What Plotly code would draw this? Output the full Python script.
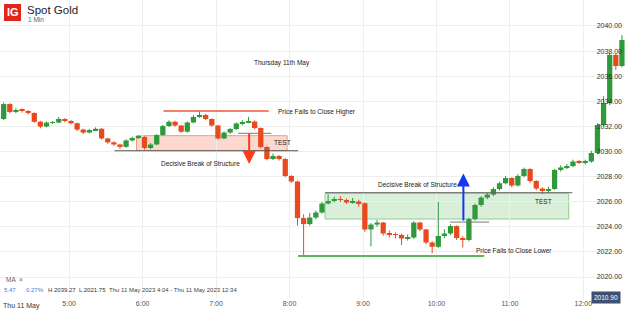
import plotly.graph_objects as go
import pandas as pd

# ---- data: 5-minute candles, Spot Gold, Thu 11 May 2023 ----
times = pd.date_range("2023-05-11 04:06:30", periods=102, freq="5min")

opens = [2032.59, 2033.78, 2033.15, 2033.31, 2033.23, 2033.07, 2032.37, 2031.99, 2032.30, 2032.31,
         2032.59, 2032.43, 2032.25, 2031.75, 2031.51, 2031.71, 2031.81, 2031.04, 2030.73, 2030.56,
         2030.37, 2030.88, 2031.08, 2031.16, 2030.28, 2030.56, 2031.31, 2032.03, 2032.37, 2032.07,
         2031.58, 2032.31, 2032.75, 2032.91, 2032.59, 2032.07, 2031.04, 2031.51, 2031.79, 2032.23,
         2032.35, 2032.39, 2031.87, 2030.36, 2029.40, 2029.64, 2029.40, 2028.05, 2027.61, 2024.70,
         2024.22, 2024.74, 2025.14, 2025.86, 2026.06, 2026.18, 2026.14, 2025.94, 2026.02, 2025.88,
         2023.79, 2024.18, 2024.34, 2023.47, 2023.39, 2023.35, 2023.07, 2023.15, 2024.34, 2023.79,
         2022.75, 2022.41, 2023.27, 2023.47, 2024.06, 2023.11, 2022.95, 2024.62, 2025.74, 2026.33,
         2026.57, 2027.01, 2027.47, 2027.89, 2027.29, 2028.05, 2028.61, 2027.65, 2027.05, 2026.93,
         2027.01, 2028.53, 2028.73, 2028.84, 2029.20, 2029.16, 2029.20, 2029.88, 2032.11, 2033.86,
         2037.69, 2036.81]
closes = [2033.78, 2033.15, 2033.31, 2033.23, 2033.07, 2032.37, 2031.99, 2032.30, 2032.31, 2032.59,
          2032.43, 2032.25, 2031.75, 2031.51, 2031.71, 2031.81, 2031.04, 2030.73, 2030.56, 2030.37,
          2030.88, 2031.08, 2031.16, 2030.28, 2030.56, 2031.31, 2032.03, 2032.37, 2032.07, 2031.58,
          2032.31, 2032.75, 2032.91, 2032.59, 2032.07, 2031.04, 2031.51, 2031.79, 2032.23, 2032.35,
          2032.39, 2031.87, 2030.36, 2029.40, 2029.64, 2029.40, 2028.05, 2027.61, 2024.70, 2024.22,
          2024.74, 2025.14, 2025.86, 2026.06, 2026.18, 2026.14, 2025.94, 2026.02, 2025.88, 2023.79,
          2024.18, 2024.34, 2023.47, 2023.39, 2023.35, 2023.07, 2023.15, 2024.34, 2023.79, 2022.75,
          2022.41, 2023.27, 2023.47, 2024.06, 2023.11, 2022.95, 2024.62, 2025.74, 2026.33, 2026.57,
          2027.01, 2027.47, 2027.89, 2027.29, 2028.05, 2028.61, 2027.65, 2027.05, 2026.93, 2027.01,
          2028.53, 2028.73, 2028.84, 2029.20, 2029.16, 2029.20, 2029.88, 2032.11, 2033.86, 2037.69,
          2036.81, 2038.88]
highs = [2033.90, 2033.85, 2033.45, 2033.42, 2033.30, 2033.12, 2032.45, 2032.40, 2032.42, 2032.75,
         2032.66, 2032.50, 2032.30, 2031.82, 2031.80, 2031.92, 2031.88, 2031.10, 2030.82, 2030.62,
         2030.98, 2031.18, 2031.28, 2031.22, 2030.68, 2031.40, 2032.12, 2032.48, 2032.45, 2032.12,
         2032.40, 2032.92, 2033.20, 2033.00, 2032.65, 2032.12, 2031.60, 2031.88, 2032.33, 2032.50,
         2032.75, 2032.48, 2031.92, 2030.42, 2029.85, 2029.72, 2029.48, 2028.12, 2027.68, 2025.00,
         2025.10, 2025.30, 2025.98, 2026.60, 2026.40, 2026.45, 2026.25, 2026.30, 2026.15, 2025.95,
         2024.30, 2024.55, 2024.40, 2023.70, 2023.55, 2023.45, 2023.40, 2024.45, 2024.40, 2023.85,
         2022.85, 2026.00, 2023.80, 2024.20, 2024.12, 2023.25, 2024.72, 2025.85, 2026.45, 2026.70,
         2027.15, 2027.60, 2028.05, 2027.95, 2028.20, 2028.72, 2028.66, 2027.72, 2027.15, 2027.20,
         2028.62, 2028.90, 2029.00, 2029.35, 2029.32, 2029.35, 2030.05, 2032.25, 2034.40, 2037.85,
         2037.80, 2039.27]
lows = [2032.50, 2033.05, 2033.05, 2033.10, 2032.95, 2032.28, 2031.85, 2031.92, 2032.18, 2032.25,
        2032.32, 2032.15, 2031.62, 2031.40, 2031.44, 2031.62, 2030.95, 2030.62, 2030.45, 2030.20,
        2030.30, 2030.80, 2031.00, 2030.15, 2030.18, 2030.50, 2031.25, 2031.95, 2031.98, 2031.48,
        2031.50, 2032.25, 2032.68, 2032.50, 2031.98, 2030.95, 2030.98, 2031.42, 2031.72, 2032.10,
        2032.25, 2031.75, 2030.25, 2029.30, 2029.32, 2029.28, 2027.95, 2027.50, 2024.10, 2021.75,
        2024.10, 2024.60, 2025.05, 2025.78, 2025.95, 2025.98, 2025.82, 2025.85, 2025.60, 2023.60,
        2022.45, 2024.00, 2023.30, 2023.15, 2023.10, 2022.55, 2022.90, 2023.05, 2023.65, 2022.60,
        2021.90, 2022.30, 2023.10, 2023.35, 2022.95, 2022.35, 2022.85, 2024.50, 2025.60, 2026.20,
        2026.45, 2026.90, 2027.38, 2027.15, 2027.20, 2027.95, 2027.50, 2026.92, 2026.62, 2026.70,
        2026.95, 2028.40, 2028.60, 2028.75, 2029.00, 2028.95, 2029.10, 2029.80, 2032.00, 2033.70,
        2036.50, 2036.70]

hour_ticks = ["2023-05-11 05:00", "2023-05-11 06:00", "2023-05-11 07:00", "2023-05-11 08:00",
              "2023-05-11 09:00", "2023-05-11 10:00", "2023-05-11 11:00", "2023-05-11 12:00"]
hour_labels = ["5:00", "6:00", "7:00", "8:00", "9:00", "10:00", "11:00", "12:00"]
price_ticks = [2020, 2022, 2024, 2026, 2028, 2030, 2032, 2034, 2036, 2038, 2040]
price_labels = [f"{v:.2f}" for v in price_ticks]

# annotation levels (price)
upper_fail_level = 2033.23
upper_zone = [2030.06, 2031.26]
upper_break_level = 2030.06
upper_test_level = 2031.45
lower_zone = [2024.62, 2026.67]
lower_break_level = 2026.72
lower_test_level = 2024.38
lower_fail_level = 2021.67

FONT = "Liberation Sans, Arial, sans-serif"
GREEN = "#2f9a3c"
RED = "#e8491d"

fig = go.Figure()

# candles drawn as bodies (bars) + wicks (lines)
for up, color in ((True, GREEN), (False, RED)):
    idx = [i for i in range(len(closes)) if (closes[i] >= opens[i]) == up]
    bx = [times[i] for i in idx]
    base = [min(opens[i], closes[i]) for i in idx]
    body = [max(abs(closes[i] - opens[i]), 0.05) for i in idx]
    fig.add_trace(go.Bar(x=bx, y=body, base=base, marker=dict(color=color, line=dict(width=0)),
                         width=4.3 * 60 * 1000, showlegend=False, hoverinfo="skip"))
    wx, wy = [], []
    for i in idx:
        wx += [times[i], times[i], None]
        wy += [lows[i], highs[i], None]
    fig.add_trace(go.Scatter(x=wx, y=wy, mode="lines", line=dict(color=color, width=1),
                             showlegend=False, hoverinfo="skip"))

D = "2023-05-11 "
shapes = [
    # upper structure
    dict(type="rect", x0=D + "05:55", x1=D + "07:58", y0=upper_zone[0], y1=upper_zone[1],
         fillcolor="rgba(248,170,150,0.45)", line=dict(color="#f29a80", width=1), layer="below"),
    dict(type="line", x0=D + "06:17", x1=D + "07:43", y0=upper_fail_level, y1=upper_fail_level,
         line=dict(color="#f0553a", width=1.5)),
    dict(type="line", x0=D + "05:37", x1=D + "08:07", y0=upper_break_level, y1=upper_break_level,
         line=dict(color="#555555", width=1)),
    dict(type="line", x0=D + "07:18", x1=D + "07:45", y0=upper_test_level, y1=upper_test_level,
         line=dict(color="#777777", width=1)),
    # lower structure
    dict(type="rect", x0=D + "08:29", x1=D + "11:48", y0=lower_zone[0], y1=lower_zone[1],
         fillcolor="rgba(170,220,170,0.45)", line=dict(color="#8fcf8f", width=1), layer="below"),
    dict(type="line", x0=D + "08:29", x1=D + "11:51", y0=lower_break_level, y1=lower_break_level,
         line=dict(color="#666666", width=1)),
    dict(type="line", x0=D + "10:11", x1=D + "10:43", y0=lower_test_level, y1=lower_test_level,
         line=dict(color="#777777", width=1)),
    dict(type="line", x0=D + "08:07", x1=D + "10:39", y0=lower_fail_level, y1=lower_fail_level,
         line=dict(color="#5cb85c", width=2)),
    # IG logo square
    dict(type="rect", xref="paper", yref="paper", x0=4 / 625, x1=21 / 625,
         y0=(298 - 21) / 298, y1=(298 - 4) / 298, fillcolor="#e3261c", line=dict(width=0)),
]

def py(Y):
    return (298 - Y) / 298

ann = [
    dict(x=D + "07:29", y=2037.05, text="Thursday 11th May"),
    dict(x=D + "07:49", y=2033.15, text="Price Fails to Close Higher"),
    dict(x=D + "07:46", y=2030.68, text="TEST"),
    dict(x=D + "06:13", y=2029.08, text="Decisive Break of Structure"),
    dict(x=D + "09:11", y=2027.41, text="Decisive Break of Structure"),
    dict(x=D + "11:19", y=2025.98, text="TEST"),
    dict(x=D + "10:31", y=2022.15, text="Price Fails to Close Lower"),
]
annotations = [dict(x=a["x"], y=a["y"], text=a["text"], showarrow=False, xanchor="left",
                    font=dict(family=FONT, size=6.5, color="#1a1a1a"))
               for a in ann]

# arrows
annotations += [
    dict(x=D + "07:27", y=2029.0, ax=D + "07:27", ay=2031.58, axref="x", ayref="y",
         xref="x", yref="y", text="", showarrow=True, arrowhead=2, arrowsize=1.3,
         arrowwidth=2, arrowcolor="#ff3b14"),
    dict(x=D + "10:22", y=2028.25, ax=D + "10:22", ay=2024.38, axref="x", ayref="y",
         xref="x", yref="y", text="", showarrow=True, arrowhead=2, arrowsize=1.3,
         arrowwidth=2, arrowcolor="#1238f0"),
]

# header & footer texts (paper coordinates)
def ptext(x, Y, text, size, color, bold=False, xanchor="left", **kw):
    t = f"<b>{text}</b>" if bold else text
    d = dict(xref="paper", yref="paper", x=x / 625, y=py(Y), text=t, showarrow=False,
             xanchor=xanchor, yanchor="middle", font=dict(family=FONT, size=size, color=color))
    d.update(kw)
    return d

annotations += [
    ptext(12.5, 12.5, "IG", 11, "white", bold=True, xanchor="center"),
    ptext(25, 10, "Spot Gold", 11.5, "#222222"),
    ptext(26, 19.5, "1 Min", 6.5, "#666666"),
    ptext(4, 279, "MA  ×", 6.5, "#666666"),
    ptext(2, 290, "5.47", 6, "#3a7bd5"),
    ptext(24, 290, "0.27%", 6, "#3a7bd5"),
    ptext(46, 290, "H 2039.27", 6, "#333333"),
    ptext(77, 290, "L 2021.75", 6, "#333333"),
    ptext(107, 290, "Thu 11 May 2023 4:04 - Thu 11 May 2023 12:34", 6, "#444444"),
    ptext(1, 306, "Thu 11 May", 7, "#333333"),
    ptext(621, 297, "2010.90", 6.5, "white", xanchor="right", bgcolor="#3f5073",
          borderpad=2),
]

fig.update_layout(
    width=625, height=312,
    margin=dict(l=0, r=0, t=0, b=14),
    paper_bgcolor="white", plot_bgcolor="white",
    shapes=shapes, annotations=annotations,
    showlegend=False, barmode="overlay",
    xaxis=dict(range=["2023-05-11 04:03:30", "2023-05-11 12:34:00"],
               tickvals=hour_ticks, ticktext=hour_labels,
               tickfont=dict(family=FONT, size=7, color="#555555"),
               showgrid=True, gridcolor="#eeeeee", gridwidth=1,
               zeroline=False, showline=False, ticks="", ticklen=0),
    yaxis=dict(range=[2018.33, 2042.07], side="right", ticklabelposition="inside",
               tickvals=price_ticks, ticktext=price_labels,
               tickfont=dict(family=FONT, size=7, color="#333333"),
               showgrid=True, gridcolor="#eeeeee", gridwidth=1,
               zeroline=False, showline=False, ticks=""),
)

fig.write_html("out.html")
